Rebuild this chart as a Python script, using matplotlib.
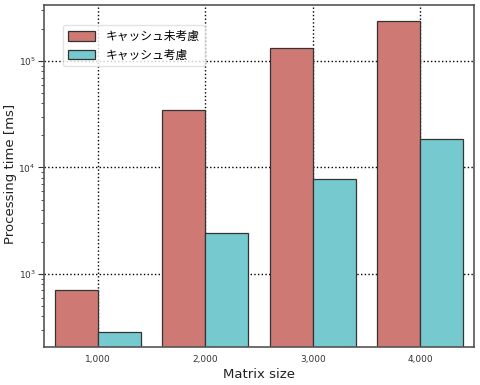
import matplotlib
matplotlib.use("Agg")
import matplotlib.pyplot as plt
import numpy as np
from matplotlib.ticker import LogLocator

plt.rcParams['font.family'] = ['DejaVu Sans', 'Noto Sans CJK JP']

categories = ["1,000", "2,000", "3,000", "4,000"]
no_cache = [708, 34500, 133000, 237000]
cache = [285, 2430, 7830, 18600]
series_names = ["キャッシュ未考慮", "キャッシュ考慮"]

fig = plt.figure(figsize=(4.8, 3.85), dpi=100)
ax = fig.add_axes([44/480, 1 - 347/385, 430/480, 342/385])

x = np.arange(1, len(categories) + 1)
w = 0.4
ax.bar(x - w/2, no_cache, width=w, color="#cf7974", edgecolor="#333333", linewidth=0.9, label=series_names[0], zorder=2)
ax.bar(x + w/2, cache, width=w, color="#76c9ce", edgecolor="#333333", linewidth=0.9, label=series_names[1], zorder=2)

ax.set_yscale('log')
ax.set_ylim(206, 336000)
ax.set_xlim(0.5, 4.5)
ax.set_xticks(x)
ax.set_xticklabels(categories)
ax.yaxis.set_major_locator(LogLocator(base=10, numticks=10))
ax.yaxis.set_minor_locator(LogLocator(base=10, subs=np.arange(2, 10), numticks=100))

ax.grid(True, which='major', linestyle=':', color='black', linewidth=1.0, zorder=1)
ax.set_axisbelow(True)

ax.tick_params(axis='both', which='major', labelsize=6.5, colors='#333333', length=4)
ax.tick_params(axis='y', which='major', pad=2)
ax.tick_params(axis='x', length=0, pad=6)
ax.tick_params(axis='y', which='minor', length=2, colors='#333333')
for s in ax.spines.values():
    s.set_color('#555555')
    s.set_linewidth(1.2)

ax.set_xlabel("Matrix size", fontsize=9.5, color='#222222', labelpad=3)
ax.set_ylabel("Processing time [ms]", fontsize=9.5, color='#222222')
ax.yaxis.set_label_coords(-0.063, 0.505)

leg = ax.legend(loc='upper left', bbox_to_anchor=(0.044, 0.9415), borderaxespad=0,
                prop={'family': ['Noto Sans CJK JP', 'DejaVu Sans'], 'size': 8.5},
                frameon=True, fancybox=True, handlelength=2.3, handleheight=0.9,
                borderpad=0.4, labelspacing=0.5, handletextpad=0.95)
leg.get_frame().set_edgecolor('#dddddd')

fig.savefig("out.png", dpi=100)
